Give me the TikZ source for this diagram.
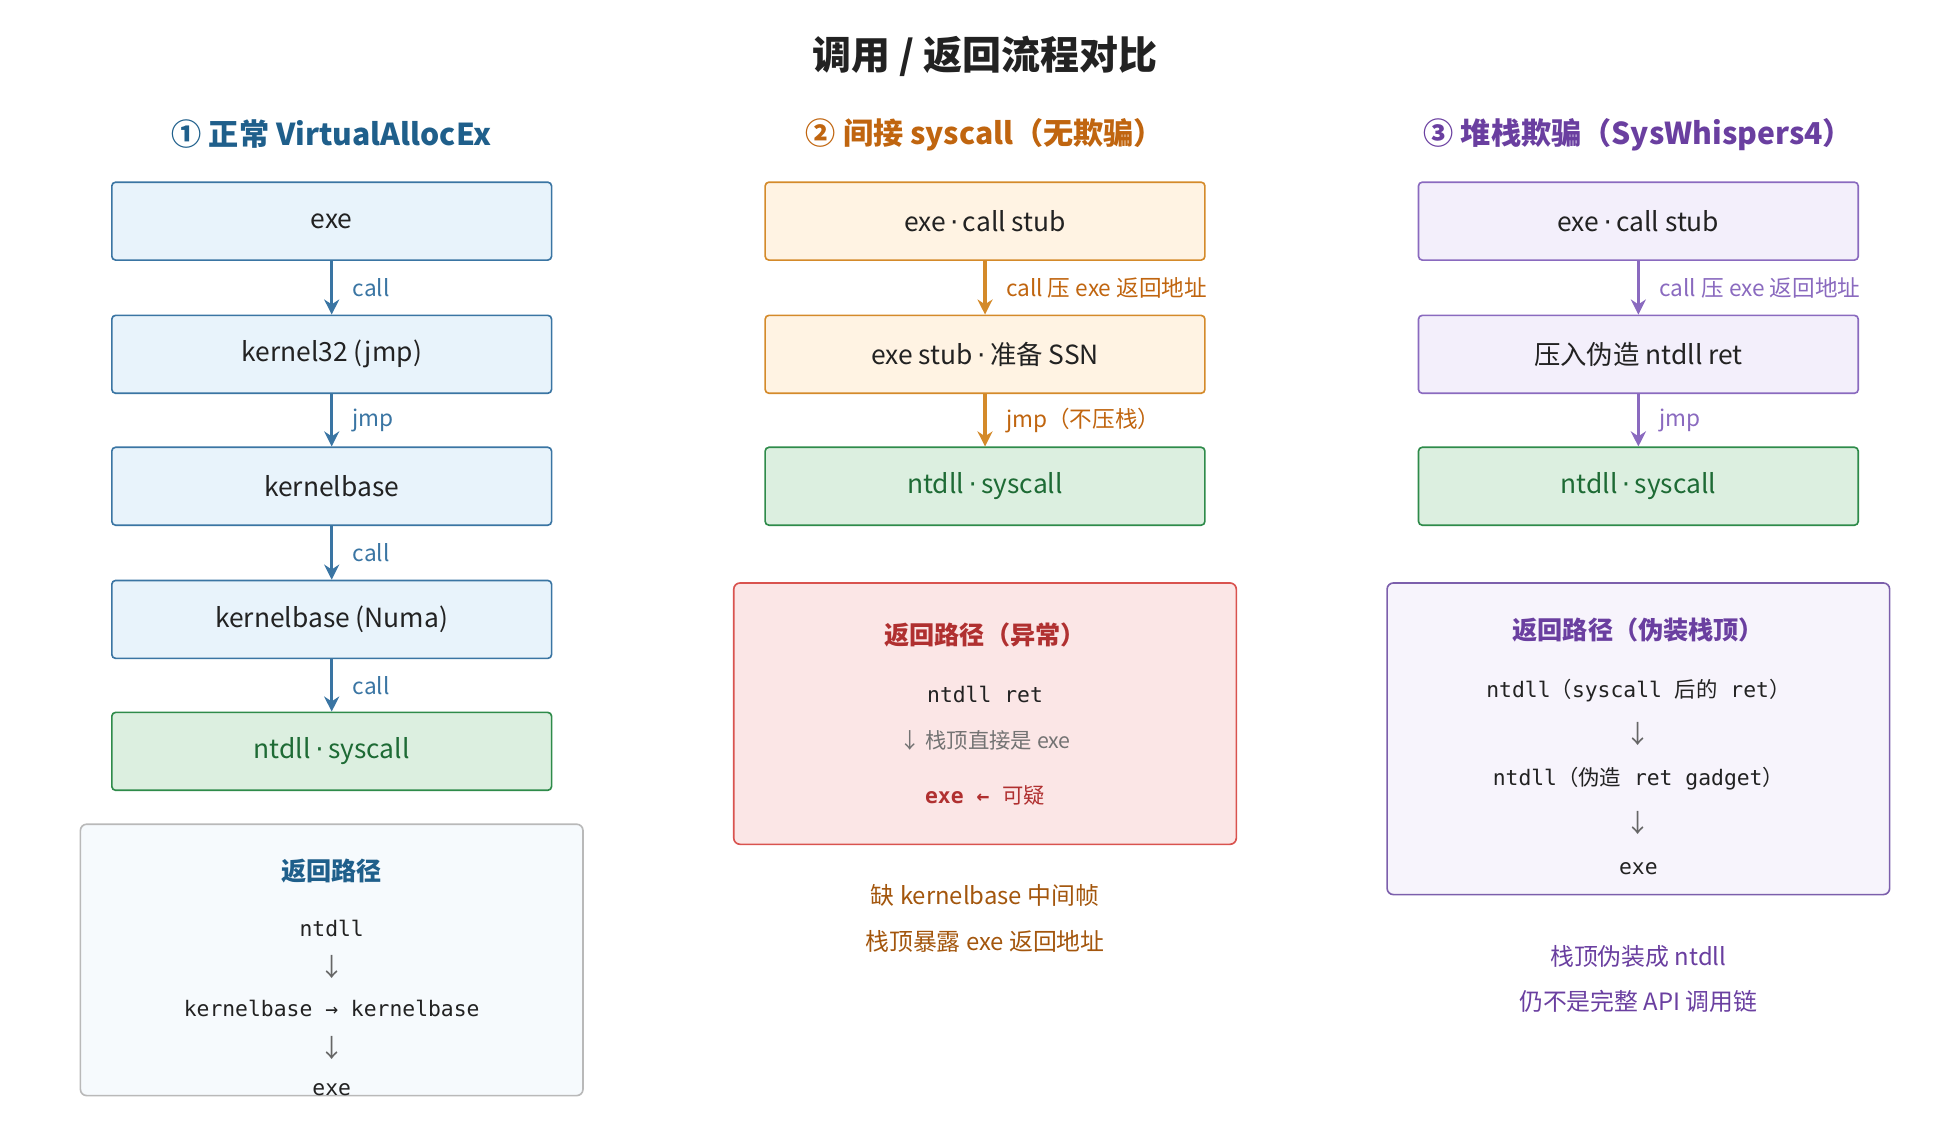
\documentclass[tikz,border=0pt]{standalone}
\usepackage{fontspec}
\setmainfont{Noto Sans CJK SC}
\newfontfamily\mono{DejaVu Sans Mono}
\newfontfamily\cjk{Noto Sans CJK SC}
\newfontfamily\dotfont{DejaVu Sans}
\newcommand{\md}{{\dotfont\,·\,}}
\usetikzlibrary{arrows.meta}
\definecolor{cB}{HTML}{1F5F8B}\definecolor{cBf}{HTML}{E8F3FB}\definecolor{cBd}{HTML}{3A75A3}
\definecolor{cO}{HTML}{C0650F}\definecolor{cOf}{HTML}{FFF3E3}\definecolor{cOd}{HTML}{D48A2A}
\definecolor{cP}{HTML}{6A3FA0}\definecolor{cPf}{HTML}{F3EFFB}\definecolor{cPd}{HTML}{8A6ABF}
\definecolor{cG}{HTML}{1E6B35}\definecolor{cGf}{HTML}{DCEFE0}\definecolor{cGd}{HTML}{2E8B4A}
\definecolor{cR}{HTML}{B03030}\definecolor{cRf}{HTML}{FBE6E6}\definecolor{cRd}{HTML}{D9534F}
\definecolor{txt}{HTML}{222222}
\begin{document}
\begin{tikzpicture}[x=1pt,y=-1pt,
 box/.style={draw,rounded corners=3pt,line width=1.3pt,minimum width=350pt,minimum height=62pt,font=\fontsize{21}{25}\selectfont,text=txt},
 bB/.style={box,fill=cBf,draw=cBd},
 bO/.style={box,fill=cOf,draw=cOd},
 bP/.style={box,fill=cPf,draw=cPd},
 bG/.style={box,fill=cGf,draw=cGd,text=cG},
 arr/.style={line width=2.8pt,-{Stealth[length=12pt,width=12pt]}},
 lab/.style={anchor=west,font=\fontsize{18}{21}\selectfont},
 head/.style={font=\bfseries\fontsize{24}{28}\selectfont},
 ret/.style={draw,rounded corners=5pt,line width=1.3pt},
 ln/.style={font=\mono\fontsize{17}{20}\selectfont,text=txt},
 dn/.style={font=\fontsize{20}{22}\selectfont,text=gray!80!black},
 note/.style={font=\fontsize{19}{22}\selectfont}]
\useasboundingbox (0,0) rectangle (1560,892);
\node[font=\bfseries\fontsize{31}{36}\selectfont,text=txt] (title) at (784,45) {调用 / 返回流程对比};
% column 1
\node[head,text=cB] (h1) at (264,107) {① 正常 VirtualAllocEx};
\node[bB] (a1) at (264,176) {exe};
\node[bB] (a2) at (264,282) {kernel32 (jmp)};
\node[bB] (a3) at (264,387) {kernelbase};
\node[bB] (a4) at (264,493) {kernelbase (Numa)};
\node[bG] (a5) at (264,598) {ntdll\md syscall};
\foreach \u/\v/\t in {a1/a2/call,a2/a3/jmp,a3/a4/call,a4/a5/call}{
 \draw[arr,cBd] (\u) -- (\v) node[midway,lab,text=cBd,xshift=12pt] {\t};}
\node[ret,fill=cBf!40,draw=gray!55,minimum width=400pt,minimum height=216pt] (r1) at (264,764) {};
\node[font=\bfseries\fontsize{20}{24}\selectfont,text=cB] (r1t) at (264,693) {返回路径};
\node[ln] (r1a) at (264,739) {ntdll};
\node[dn] (r1b) at (264,770) {↓};
\node[ln] (r1c) at (264,803) {kernelbase → kernelbase};
\node[dn] (r1d) at (264,834) {↓};
\node[ln] (r1e) at (264,867) {exe};
% column 2
\node[head,text=cO] (h2) at (784,107) {② 间接 syscall（无欺骗）};
\node[bO] (b1) at (784,176) {exe\md call stub};
\node[bO] (b2) at (784,282) {exe stub\md 准备 SSN};
\node[bG] (b3) at (784,387) {ntdll\md syscall};
\draw[arr,cOd] (b1) -- (b2) node[midway,lab,text=cO,xshift=12pt] {call 压 exe 返回地址};
\draw[arr,cOd] (b2) -- (b3) node[midway,lab,text=cO,xshift=12pt] {jmp（不压栈）};
\node[ret,fill=cRf,draw=cRd,minimum width=400pt,minimum height=208pt] (r2) at (784,568) {};
\node[font=\bfseries\fontsize{20}{24}\selectfont,text=cR] (r2t) at (784,505) {返回路径（异常）};
\node[ln] (r2a) at (784,553) {ntdll ret};
\node[font=\fontsize{17}{20}\selectfont,text=gray!90!black] (r2b) at (784,589) {↓ 栈顶直接是 exe};
\node[font=\mono\bfseries\fontsize{17}{20}\selectfont,text=cR] (r2c) at (784,633) {exe ← {\cjk\mdseries 可疑}};
\node[note,text=cO!85!black] (n2a) at (784,713) {缺 kernelbase 中间帧};
\node[note,text=cO!85!black] (n2b) at (784,749) {栈顶暴露 exe 返回地址};
% column 3
\node[head,text=cP] (h3) at (1304,107) {③ 堆栈欺骗（SysWhispers4）};
\node[bP] (c1) at (1304,176) {exe\md call stub};
\node[bP] (c2) at (1304,282) {压入伪造 ntdll ret};
\node[bG] (c3) at (1304,387) {ntdll\md syscall};
\draw[arr,cPd] (c1) -- (c2) node[midway,lab,text=cPd,xshift=12pt] {call 压 exe 返回地址};
\draw[arr,cPd] (c2) -- (c3) node[midway,lab,text=cPd,xshift=12pt] {jmp};
\node[ret,fill=cPf!70,draw=cPd!90!black,minimum width=400pt,minimum height=248pt] (r3) at (1304,588) {};
\node[font=\bfseries\fontsize{20}{24}\selectfont,text=cP] (r3t) at (1304,501) {返回路径（伪装栈顶）};
\node[ln] (r3a) at (1304,550) {ntdll{\cjk （}syscall {\cjk 后的} ret{\cjk ）}};
\node[dn] (r3b) at (1304,584) {↓};
\node[ln] (r3c) at (1304,620) {ntdll{\cjk （伪造} ret gadget{\cjk ）}};
\node[dn] (r3d) at (1304,655) {↓};
\node[ln] (r3e) at (1304,691) {exe};
\node[note,text=cP] (n3a) at (1304,761) {栈顶伪装成 ntdll};
\node[note,text=cP] (n3b) at (1304,797) {仍不是完整 API 调用链};
\end{tikzpicture}
\end{document}
